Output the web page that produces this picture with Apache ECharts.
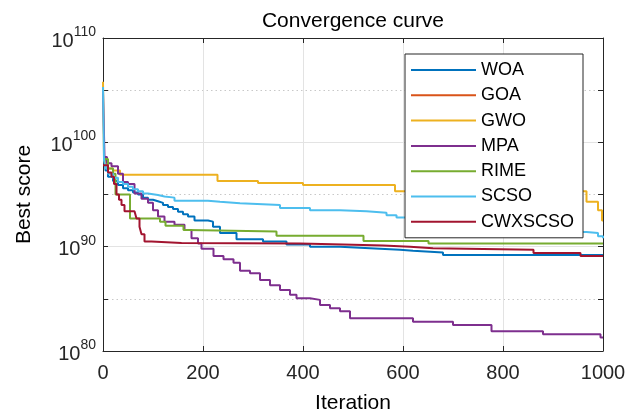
<!DOCTYPE html>
<html>
<head>
<meta charset="utf-8">
<script src="https://cdn.jsdelivr.net/npm/echarts@6/dist/echarts.min.js"></script>
<style>
  html, body { margin: 0; padding: 0; background: #fff; }
  #chart { width: 627px; height: 413px; }
</style>
</head>
<body>
<div id="chart"></div>
<script>
// [iteration, log10(best score)]
let woa = [[0, 98.3], [5, 97.3], [10, 96.7], [20, 96.3], [30, 95.9], [40, 95.6], [50, 95.4], [60, 95.2], [70, 95.0],
    [80, 94.7], [90, 94.5], [100, 94.35], [110, 94.2], [120, 94.0], [130, 93.8], [140, 93.6], [150, 93.35], [160, 93.1],
    [170, 92.9], [183, 92.5], [210, 92.4], [220, 91.9], [234, 91.3], [267, 90.7], [320, 90.5], [367, 90.2], [414, 90.0],
    [474, 89.85], [534, 89.7], [594, 89.6], [620, 89.45], [680, 89.2], [1000, 89.2]];
let goa = [];
let gwo = [[0, 105.8], [2, 98.5], [5, 97.8], [10, 97.5], [20, 97.3], [34, 96.9], [229, 96.3], [310, 96.1], [400, 95.9],
    [584, 95.3], [967, 94.3], [990, 93.5], [998, 92.5], [1000, 92.5]];
let mpa = [[0, 105.0], [3, 98.6], [8, 98.0], [17, 97.7], [30, 97.0], [40, 96.2], [50, 96.0], [63, 95.1], [77, 94.6],
    [90, 94.2], [100, 93.5], [110, 92.9], [123, 92.4], [143, 92.1], [163, 91.6], [177, 90.8], [190, 90.3], [197, 89.8],
    [221, 89.1], [241, 88.8], [261, 88.45], [274, 87.7], [294, 87.45], [314, 86.8], [334, 86.3], [354, 85.85],
    [374, 85.4], [387, 85.05], [414, 84.9], [434, 84.4], [454, 84.1], [474, 83.8], [494, 83.15], [620, 82.8],
    [700, 82.5], [777, 81.9], [880, 81.6], [995, 81.3], [1000, 81.3]];
let rime = [[0, 98.4], [10, 97.5], [20, 97.0], [25, 95.0], [54, 92.7], [114, 92.4], [125, 92.0], [161, 91.6],
    [170, 91.45], [347, 91.05], [521, 90.55], [651, 90.3], [1000, 90.25]];
let scso = [[0, 105.3], [2, 98.3], [5, 97.5], [10, 97.0], [20, 96.6], [30, 96.2], [40, 96.0], [50, 95.75], [60, 95.5],
    [70, 95.3], [80, 95.1], [90, 94.95], [110, 94.8], [123, 94.7], [143, 94.4], [210, 94.3], [234, 94.15], [274, 94.0],
    [354, 93.7], [414, 93.5], [474, 93.4], [527, 93.25], [567, 93.0], [587, 92.8], [650, 92.4], [750, 92.0],
    [850, 91.6], [940, 91.4], [967, 91.3], [990, 91.0], [1000, 90.8]];
let cwxscso = [[0, 97.8], [10, 97.1], [17, 96.7], [22, 96.0], [27, 95.0], [32, 94.5], [37, 94.0], [43, 93.4], [63, 93.3],
    [67, 92.7], [73, 91.9], [77, 91.2], [83, 90.5], [97, 90.35], [157, 90.3], [394, 90.2], [480, 90.1], [560, 90.0],
    [614, 89.85], [660, 89.7], [861, 89.4], [955, 89.1], [1000, 89.1]];

let names = ['WOA', 'GOA', 'GWO', 'MPA', 'RIME', 'SCSO', 'CWXSCSO'];
let colors = ['#0072BD', '#D95319', '#EDB120', '#7E2F8E', '#77AC30', '#4DBEEE', '#A2142F'];
let curves = [woa, goa, gwo, mpa, rime, scso, cwxscso];

let xTicks = [0, 200, 400, 600, 800, 1000];

let font = 'Liberation Sans, Arial, sans-serif';
let axisColor = '#262626';

let myChart = echarts.init(document.getElementById('chart'));

let series = curves.map(function (c, i) {
    return {
        name: names[i],
        type: 'line',
        step: 'end',
        yAxisIndex: 1,
        symbol: 'none',
        lineStyle: {width: 2, color: colors[i]},
        itemStyle: {color: colors[i]},
        data: c.map(function (p) {
            return [p[0], Math.pow(10, p[1])];
        })
    };
});

let option = {
    animation: false,
    backgroundColor: '#fff',
    title: {
        text: 'Convergence curve',
        left: 353,
        top: 11,
        textAlign: 'center',
        padding: 0,
        textStyle: {fontFamily: font, fontSize: 21, fontWeight: 'normal', color: '#000'}
    },
    grid: {left: 103, right: 24, top: 38, bottom: 62, containLabel: false, outerBoundsMode: 'none'},
    legend: {
        orient: 'vertical',
        left: 405,
        top: 54,
        icon: 'rect',
        itemWidth: 65,
        itemHeight: 2,
        itemGap: 7.3,
        padding: [7, 9, 7, 6],
        backgroundColor: '#fff',
        borderColor: axisColor,
        borderWidth: 1,
        borderRadius: 0,
        textStyle: {fontFamily: font, fontSize: 18, color: '#000', lineHeight: 18},
        data: names
    },
    xAxis: [{
        type: 'value',
        min: xTicks[0],
        max: xTicks[xTicks.length - 1],
        interval: 200,
        position: 'bottom',
        name: 'Iteration',
        nameLocation: 'middle',
        nameGap: 42,
        nameTextStyle: {fontFamily: font, fontSize: 21, color: '#000'},
        axisLine: {show: true, lineStyle: {color: axisColor, width: 1}},
        axisTick: {show: true, inside: true, length: 5, lineStyle: {color: axisColor}},
        axisLabel: {
            fontFamily: font, fontSize: 20, color: axisColor, margin: 12,
            formatter: function (v) {
                return String(v);
            }
        },
        splitLine: {show: true, lineStyle: {color: '#e3e3e3', width: 1}}
    }, {
        type: 'value',
        min: xTicks[0],
        max: xTicks[xTicks.length - 1],
        interval: 200,
        position: 'top',
        axisLine: {show: true, lineStyle: {color: axisColor, width: 1}},
        axisTick: {show: true, inside: true, length: 5, lineStyle: {color: axisColor}},
        axisLabel: {show: false},
        splitLine: {show: false}
    }],
    yAxis: [{
        // minor (dotted) grid and ticks every 5 decades, exponent space
        type: 'value',
        min: 80,
        max: 110,
        interval: 5,
        position: 'left',
        axisLine: {show: false},
        axisTick: {show: true, inside: true, length: 5, lineStyle: {color: axisColor}},
        axisLabel: {show: false},
        splitLine: {show: true, lineStyle: {color: '#c8c8c8', width: 1, type: [1.5, 3]}}
    }, {
        type: 'log',
        logBase: 10,
        min: 1e80,
        max: 1e110,
        splitNumber: 3,
        position: 'left',
        name: 'Best score',
        nameLocation: 'middle',
        nameGap: 68,
        nameRotate: 90,
        nameTextStyle: {fontFamily: font, fontSize: 21, color: '#000'},
        axisLine: {show: true, lineStyle: {color: axisColor, width: 1}},
        axisTick: {show: false},
        axisLabel: {
            margin: 7,
            formatter: function (value) {
                return '{b|10}{s|' + Math.round(Math.log10(value)) + '}';
            },
            rich: {
                b: {fontFamily: font, fontSize: 20, color: axisColor, verticalAlign: 'bottom', lineHeight: 26},
                s: {fontFamily: font, fontSize: 14, color: axisColor, verticalAlign: 'top', lineHeight: 26}
            }
        },
        splitLine: {show: true, lineStyle: {color: '#e3e3e3', width: 1}}
    }, {
        type: 'value',
        min: 80,
        max: 110,
        interval: 5,
        position: 'right',
        axisLine: {show: true, lineStyle: {color: axisColor, width: 1}},
        axisTick: {show: true, inside: true, length: 5, lineStyle: {color: axisColor}},
        axisLabel: {show: false},
        splitLine: {show: false}
    }],
    series: series
};

myChart.setOption(option);
</script>
</body>
</html>
